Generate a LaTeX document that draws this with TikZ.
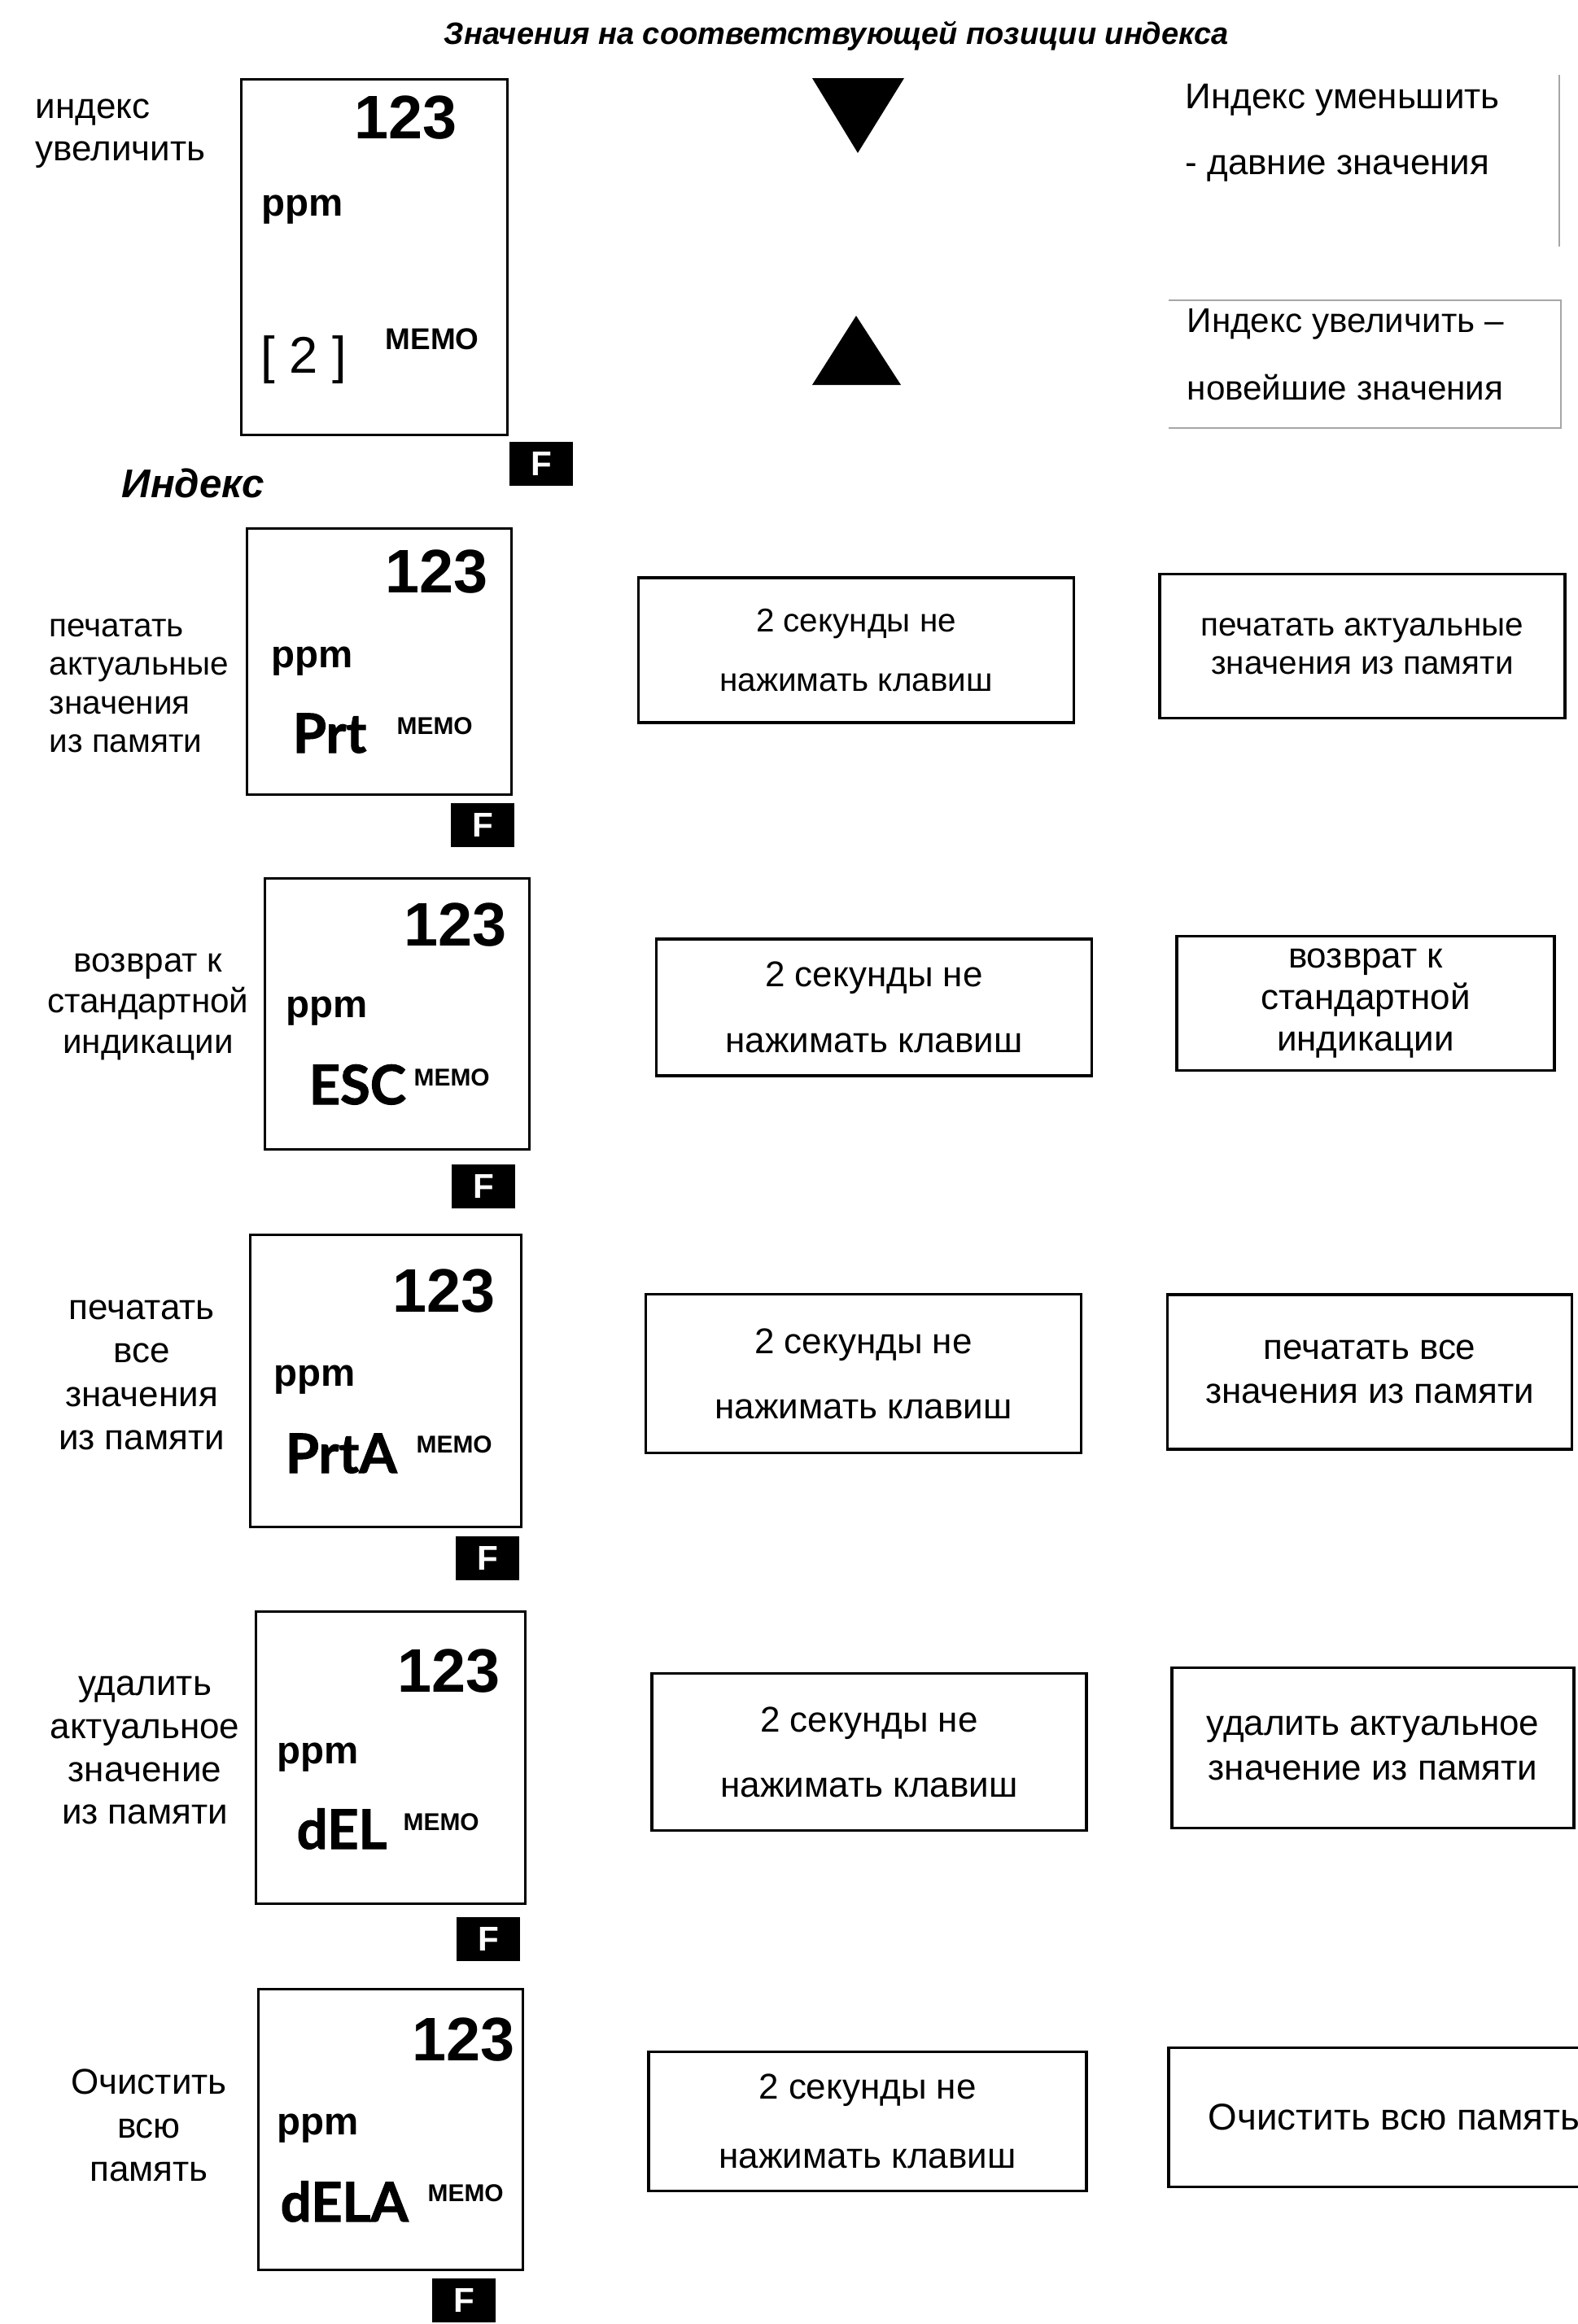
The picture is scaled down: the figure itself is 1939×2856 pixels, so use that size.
\documentclass[tikz,border=0pt]{standalone}
\usepackage{fontspec}
\setmainfont{Liberation Sans}
\newfontfamily\lcdfont[BoldFeatures={FakeBold=1.5}]{Lato}
\usetikzlibrary{positioning}

\begin{document}
\begin{tikzpicture}[x=0.01cm, y=-0.01cm,
  disp/.style={draw, line width=0.9pt, inner sep=0pt},
  waitbox/.style={draw, line width=1pt, inner sep=0pt, align=center},
  actbox/.style={draw, line width=1pt, inner sep=0pt, align=center},
  fkey/.style={fill=black, text=white, font=\bfseries\fontsize{12}{12}\selectfont, minimum width=0.78cm, minimum height=0.54cm, inner sep=0pt},
  digits/.style={font=\bfseries\fontsize{21.5}{21.5}\selectfont, inner sep=0pt, anchor=base east},
  unit/.style={font=\bfseries\fontsize{13.5}{13.5}\selectfont, inner sep=0pt, anchor=base west},
  code/.style={font=\lcdfont\bfseries\fontsize{19}{19}\selectfont, inner sep=0pt, anchor=base west},
  memo/.style={font=\bfseries\fontsize{8.5}{8.5}\selectfont, inner sep=0pt, anchor=base west},
  lbl/.style={align=center, inner sep=0pt},
  hint/.style={anchor=west, inner sep=0pt, font=\fontsize{12.5}{12.5}\selectfont},
]
\useasboundingbox (0,0) rectangle (1939,2856);

% header
\node[font=\bfseries\itshape\fontsize{10.8}{10.8}\selectfont] (title) at (1028,44) {Значения на соответствующей позиции индекса};

% index row
\node[lbl, align=left, anchor=west, font=\fontsize{12.5}{14.8}\selectfont] (lbl0) at (43,164) {индекс\\увеличить};
\node[disp, minimum width=3.27cm, minimum height=4.37cm] (disp0) at (460,316) {};
\node[digits] (big0) at (562,170) {123};
\node[unit] (unit0) at (321,265) {ppm};
\node[font=\fontsize{18}{18}\selectfont, inner sep=0pt, anchor=base west] (pos0) at (320,458) {[\;2\;]};
\node[memo, font=\bfseries\fontsize{10.5}{10.5}\selectfont] (memo0) at (473,429) {MEMO};
\node[fkey, below right=0.06cm and 0cm of disp0.south east] (fkey0) {F};
\fill (998,96) -- (1111,96) -- (1054,188) -- cycle;
\fill (998,473) -- (1107,473) -- (1052,388) -- cycle;
\node[hint] (down0) at (1456,123) {Индекс уменьшить};
\node[hint] (down1) at (1456,207) {- давние значения};
\draw[gray!70, line width=0.6pt] (1916,92) -- (1916,303);
\node[hint, font=\fontsize{12}{12}\selectfont] (up0) at (1458,398) {Индекс увеличить –};
\node[hint, font=\fontsize{12}{12}\selectfont] (up1) at (1458,476) {новейшие значения};
\draw[gray!70, line width=0.6pt] (1436,369) -- (1918,369) -- (1918,526) -- (1436,526);
\node[font=\bfseries\itshape\fontsize{14}{14}\selectfont, anchor=west, inner sep=0pt] (idx) at (149,594) {Индекс};

% Prt
\node[lbl, align=left, anchor=west, font=\fontsize{11.5}{13.5}\selectfont] (lbl1) at (60,843) {печатать\\актуальные\\значения\\из памяти};
\node[disp, minimum width=3.25cm, minimum height=3.27cm] (disp1) at (466,813) {};
\node[digits] (big1) at (600,728) {123};
\node[unit] (unit1) at (333,820) {ppm};
\node[code] (code1) at (359,925) {Prt};
\node[memo] (memo1) at (487,902) {MEMO};
\node[fkey, below left=0.08cm and -0.03cm of disp1.south east] (fkey1) {F};
\node[waitbox, minimum width=5.35cm, minimum height=1.78cm, font=\fontsize{11.5}{21}\selectfont] (wait1) at (1052,799) {2 секунды не\\нажимать клавиш};
\node[actbox, minimum width=4.98cm, minimum height=1.77cm, font=\fontsize{11.5}{13.4}\selectfont] (act1) at (1674,794) {печатать актуальные\\значения из памяти};

% ESC
\node[lbl, font=\fontsize{12}{14.2}\selectfont] (lbl2) at (182,1237) {возврат к\\стандартной\\индикации};
\node[disp, minimum width=3.24cm, minimum height=3.33cm] (disp2) at (488,1246) {};
\node[digits] (big2) at (623,1162) {123};
\node[unit] (unit2) at (351,1250) {ppm};
\node[code] (code2) at (379,1357) {ESC};
\node[memo] (memo2) at (508,1334) {MEMO};
\node[fkey, below left=0.16cm and 0.18cm of disp2.south east] (fkey2) {F};
\node[waitbox, minimum width=5.35cm, minimum height=1.68cm, font=\fontsize{12.5}{23}\selectfont] (wait2) at (1074,1238) {2 секунды не\\нажимать клавиш};
\node[actbox, minimum width=4.64cm, minimum height=1.65cm, font=\fontsize{12.5}{14.6}\selectfont] (act2) at (1678,1233) {возврат к\\стандартной\\индикации};

% PrtA
\node[lbl, font=\fontsize{12.5}{15.2}\selectfont] (lbl3) at (174,1690) {печатать\\все\\значения\\из памяти};
\node[disp, minimum width=3.33cm, minimum height=3.59cm] (disp3) at (474,1697) {};
\node[digits] (big3) at (609,1612) {123};
\node[unit] (unit3) at (336,1703) {ppm};
\node[code] (code3) at (350,1810) {PrtA};
\node[memo] (memo3) at (511,1785) {MEMO};
\node[fkey, below left=0.09cm and 0.03cm of disp3.south east] (fkey3) {F};
\node[waitbox, minimum width=5.35cm, minimum height=1.95cm, font=\fontsize{12.5}{22.8}\selectfont] (wait3) at (1061,1688) {2 секунды не\\нажимать клавиш};
\node[actbox, minimum width=4.97cm, minimum height=1.90cm, font=\fontsize{12.5}{15.4}\selectfont] (act3) at (1683,1686) {печатать все\\значения из памяти};

% dEL
\node[lbl, font=\fontsize{12.5}{15}\selectfont] (lbl4) at (178,2151) {удалить\\актуальное\\значение\\из памяти};
\node[disp, minimum width=3.31cm, minimum height=3.59cm] (disp4) at (480,2160) {};
\node[digits] (big4) at (615,2079) {123};
\node[unit] (unit4) at (340,2167) {ppm};
\node[code] (code4) at (364,2272) {dEL};
\node[memo] (memo4) at (495,2249) {MEMO};
\node[fkey, below left=0.14cm and 0.07cm of disp4.south east] (fkey4) {F};
\node[waitbox, minimum width=5.34cm, minimum height=1.93cm, font=\fontsize{12.5}{22.8}\selectfont] (wait4) at (1068,2153) {2 секунды не\\нажимать клавиш};
\node[actbox, minimum width=4.94cm, minimum height=1.97cm, font=\fontsize{12.5}{15.6}\selectfont] (act4) at (1687,2148) {удалить актуальное\\значение из памяти};

% dELA
\node[lbl, font=\fontsize{12.5}{15.2}\selectfont] (lbl5) at (183,2612) {Очистить\\всю\\память};
\node[disp, minimum width=3.25cm, minimum height=3.45cm] (disp5) at (480,2617) {};
\node[digits] (big5) at (633,2532) {123};
\node[unit] (unit5) at (340,2623) {ppm};
\node[code] (code5) at (344,2730) {dELA};
\node[memo] (memo5) at (525,2705) {MEMO};
\node[fkey, below left=0.08cm and 0.34cm of disp5.south east] (fkey5) {F};
\node[waitbox, minimum width=5.38cm, minimum height=1.71cm, font=\fontsize{12.5}{24}\selectfont] (wait5) at (1066,2607) {2 секунды не\\нажимать клавиш};
\node[actbox, minimum width=5.54cm, minimum height=1.71cm, font=\fontsize{13}{13}\selectfont] (act5) at (1713,2602) {Очистить всю память};
\end{tikzpicture}
\end{document}
